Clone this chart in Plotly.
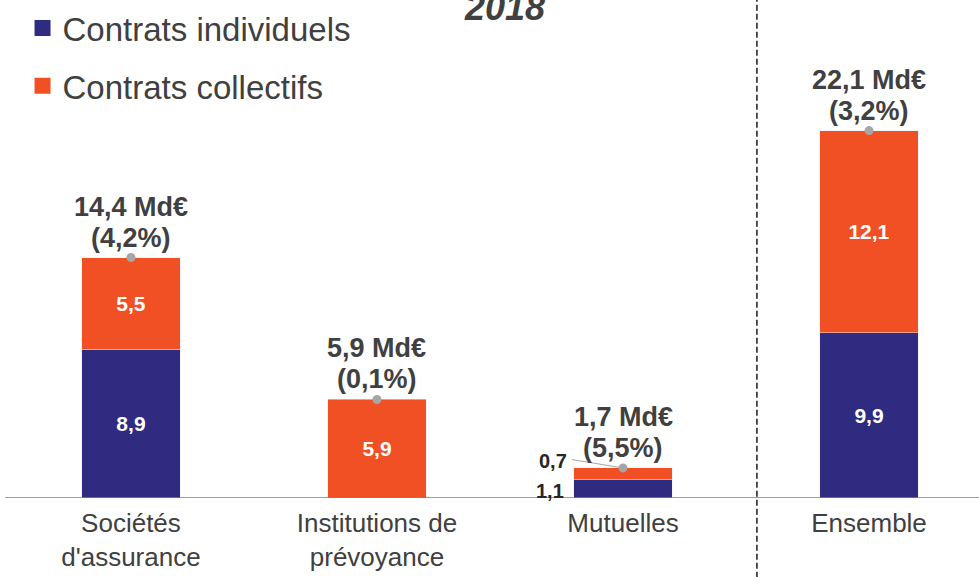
import plotly.graph_objects as go

categories = ["Sociétés<br>d'assurance", "Institutions de<br>prévoyance", "Mutuelles", "Ensemble"]
individuels = [8.9, 0.0, 1.1, 9.9]
collectifs = [5.5, 5.9, 0.7, 12.1]
total_labels = ["14,4 Md€", "5,9 Md€", "1,7 Md€", "22,1 Md€"]
growth_labels = ["(4,2%)", "(0,1%)", "(5,5%)", "(3,2%)"]
ind_text = ["8,9", "", "", "9,9"]
col_text = ["5,5", "5,9", "", "12,1"]
series_names = ["Contrats individuels", "Contrats collectifs"]

BLUE = "#2E2B80"
ORANGE = "#F15025"
GREY_TXT = "#404040"
FONT = "Liberation Sans, Arial, sans-serif"

x = list(range(len(categories)))
totals = [a + b for a, b in zip(individuels, collectifs)]

fig = go.Figure()
fig.add_trace(go.Bar(
    x=x, y=individuels, name=series_names[0], marker_color=BLUE,
    width=0.4, text=ind_text, textposition="inside", insidetextanchor="middle",
    textangle=0, constraintext="none",
    textfont=dict(color="white", size=21, family=FONT, weight="bold"),
    showlegend=False, hoverinfo="skip"))
fig.add_trace(go.Bar(
    x=x, y=collectifs, name=series_names[1], marker_color=ORANGE,
    width=0.4, text=col_text, textposition="inside", insidetextanchor="middle",
    textangle=0, constraintext="none",
    textfont=dict(color="white", size=21, family=FONT, weight="bold"),
    showlegend=False, hoverinfo="skip"))
# legend entries with larger square symbols
for name, col, grp in [(series_names[0], BLUE, "a"), (series_names[1], ORANGE, "b")]:
    fig.add_trace(go.Scatter(
        x=[None], y=[None], mode="markers", name=name, legendgroup=grp,
        marker=dict(symbol="square", color=col, size=16)))
fig.add_trace(go.Scatter(
    x=x, y=totals,
    mode="markers", marker=dict(color="#A6A6A6", size=9),
    showlegend=False, cliponaxis=False, hoverinfo="skip"))

annotations = []
for i in x:
    annotations.append(dict(
        x=i, y=totals[i], xref="x", yref="y", yanchor="middle", yshift=51,
        text=f"<b>{total_labels[i]}</b>",
        showarrow=False, font=dict(size=27, color=GREY_TXT, family=FONT)))
    annotations.append(dict(
        x=i, y=totals[i], xref="x", yref="y", yanchor="middle", yshift=20,
        text=f"<b>{growth_labels[i]}</b>",
        showarrow=False, font=dict(size=27, color=GREY_TXT, family=FONT)))

# Mutuelles small labels
annotations.append(dict(
    x=2 - 0.2, y=totals[2], xref="x", yref="y",
    xanchor="right", yanchor="middle", xshift=-5, yshift=7,
    text="<b>0,7</b>", showarrow=False,
    font=dict(size=20, color="#262626", family=FONT)))
annotations.append(dict(
    x=2 - 0.2, y=individuels[2] / 2, xref="x", yref="y",
    xanchor="right", yanchor="middle", xshift=-8, yshift=-2,
    text="<b>1,1</b>", showarrow=False,
    font=dict(size=20, color="#262626", family=FONT)))
annotations.append(dict(
    x=0.513, y=0.985, xref="paper", yref="paper", yanchor="middle",
    text="<b><i>2018</i></b>", showarrow=False,
    font=dict(size=36, color=GREY_TXT, family=FONT)))

shapes = [
    dict(type="line", xref="paper", yref="paper", x0=0.772, x1=0.772,
         y0=-0.16, y1=1.0, line=dict(color="#1a1a1a", width=1.5, dash="6px,3px")),
    dict(type="line", xref="x", yref="y",
         x0=2 - 0.2 - 0.008, y0=totals[2] + 0.5,
         x1=2, y1=totals[2],
         line=dict(color="#A6A6A6", width=1)),
]

fig.update_layout(
    width=979, height=577,
    margin=dict(l=5, r=0, t=0, b=79, autoexpand=False),
    barmode="stack",
    plot_bgcolor="white", paper_bgcolor="white",
    font=dict(family=FONT, color=GREY_TXT),
    showlegend=True,
    legend=dict(x=0.018, y=1.0, xanchor="left", yanchor="top",
                font=dict(size=33, color=GREY_TXT, family=FONT),
                traceorder="grouped", tracegroupgap=12, itemwidth=30,
                bgcolor="rgba(0,0,0,0)"),
    xaxis=dict(range=[-0.512, 3.447], tickvals=x, ticktext=categories,
               showgrid=False, zeroline=False, showline=False, automargin=False,
               ticks="outside", ticklen=2, tickcolor="rgba(0,0,0,0)",
               tickfont=dict(size=26, color=GREY_TXT, family=FONT)),
    yaxis=dict(range=[0, 29.82], visible=False, showgrid=False, zeroline=False),
    annotations=annotations,
    shapes=shapes,
)
fig.add_shape(type="line", xref="paper", yref="y", x0=0, x1=1, y0=0, y1=0,
              line=dict(color="#808080", width=1.5))

fig.write_html("out.html")
